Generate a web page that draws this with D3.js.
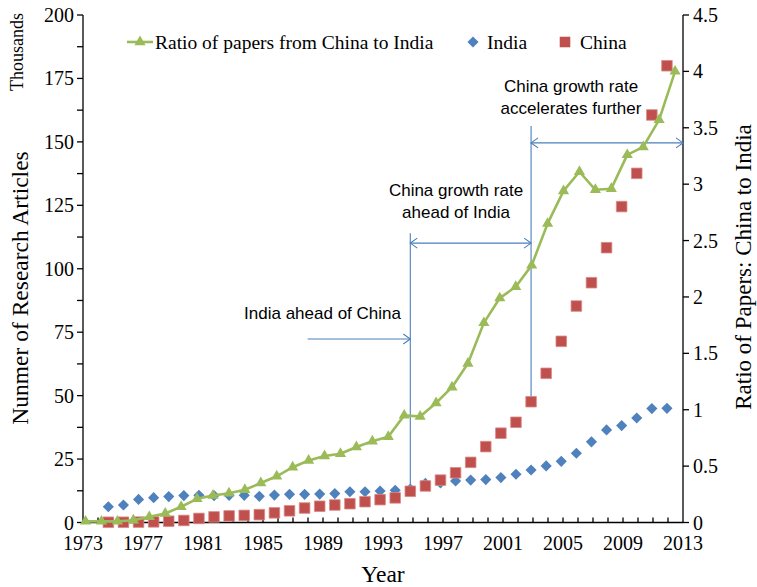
<!DOCTYPE html>
<html><head><meta charset="utf-8">
<script src="https://cdn.jsdelivr.net/npm/d3@7"></script>
<style>
html,body{margin:0;padding:0;background:#fff;}
svg{display:block;}
</style></head>
<body>
<svg id="chart" width="757" height="587"></svg>
<script>
// ---------- DATA ----------
const years = d3.range(1975, 2013); // 1975..2012
const india = [6.2, 6.9, 9.1, 9.8, 10.2, 10.6, 10.7, 10.6, 10.7, 10.7,
  10.3, 10.8, 11.1, 11.1, 11.2, 11.4, 12.1, 12.1, 12.4, 12.7,
  13.2, 15.4, 15.6, 16.4, 16.7, 16.9, 17.7, 19.0, 20.7, 22.3,
  24.1, 27.3, 31.8, 36.5, 38.2, 41.2, 44.9, 45.0];
const china = [0.1, 0.1, 0.15, 0.25, 0.5, 0.8, 1.6, 2.2, 2.6, 2.8,
  3.1, 3.8, 4.6, 5.7, 6.4, 6.9, 7.4, 8.2, 9.0, 9.7,
  12.3, 14.4, 16.7, 19.6, 23.7, 29.9, 35.2, 39.5, 47.6, 58.8,
  71.4, 85.3, 94.5, 108.3, 124.5, 137.6, 160.6, 180.0];
const ratio = [0.01, 0.01, 0.01, 0.02, 0.05, 0.08, 0.14, 0.21, 0.24, 0.26,
  0.29, 0.35, 0.41, 0.49, 0.55, 0.59, 0.61, 0.67, 0.72, 0.76,
  0.95, 0.94, 1.06, 1.20, 1.41, 1.77, 1.99, 2.09, 2.28, 2.65,
  2.94, 3.11, 2.95, 2.96, 3.26, 3.33, 3.57, 4.00];
const xTickLabels = [1973, 1977, 1981, 1985, 1989, 1993, 1997, 2001, 2005, 2009, 2013];
const leftTicks = [0, 25, 50, 75, 100, 125, 150, 175, 200];
const rightTicks = [0, 0.5, 1, 1.5, 2, 2.5, 3, 3.5, 4, 4.5];
const seriesNames = ["Ratio of papers from China to India", "India", "China"];
const colors = {ratio: "#9bbb59", india: "#4f81bd", china: "#c0504d", note: "#4a7ebb"};

// ---------- LAYOUT ----------
const L = 83, R = 683, T = 15, B = 522.5;
const svg = d3.select("#chart");
const x = d3.scaleLinear().domain([1973, 2013]).range([L, R]);
// scatter series sit on a slightly shifted value axis, ratio line on a category axis
const xPts = d3.scaleLinear().domain([1975, 2012]).range([x(1974.69), x(2011.93)]);
const xRatio = d3.scaleLinear().domain([1975, 2012]).range([x(1973.17), x(2012.47)]);
const yL = d3.scaleLinear().domain([0, 200]).range([B, T]);
const yR = d3.scaleLinear().domain([0, 4.5]).range([B, T]);

const serif = "'Liberation Serif','Times New Roman',serif";
const sans = "'Liberation Sans',Arial,sans-serif";

// ---------- AXES ----------
const gAx = svg.append("g").attr("stroke", "#000").attr("stroke-width", 1.3).attr("fill", "none");
gAx.append("line").attr("x1", L).attr("x2", L).attr("y1", T).attr("y2", B);
gAx.append("line").attr("x1", R).attr("x2", R).attr("y1", T).attr("y2", B);
gAx.append("line").attr("x1", L).attr("x2", R).attr("y1", B).attr("y2", B);
leftTicks.forEach(v => {
  gAx.append("line").attr("x1", L - 6).attr("x2", L).attr("y1", yL(v)).attr("y2", yL(v));
});
d3.range(12.5, 200, 25).forEach(v => {
  gAx.append("line").attr("x1", L - 6).attr("x2", L).attr("y1", yL(v)).attr("y2", yL(v));
});
rightTicks.forEach(v => {
  gAx.append("line").attr("x1", R).attr("x2", R + 6).attr("y1", yR(v)).attr("y2", yR(v));
});
d3.range(1974, 2013).forEach(yr => {
  gAx.append("line").attr("x1", x(yr)).attr("x2", x(yr)).attr("y1", B - 5).attr("y2", B);
});

const gTxt = svg.append("g").attr("font-family", serif).attr("fill", "#000");
gTxt.selectAll(".lt").data(leftTicks).join("text")
  .attr("x", L - 9).attr("y", d => yL(d)).attr("dy", "0.35em")
  .attr("text-anchor", "end").attr("font-size", 20).text(d => d);
gTxt.selectAll(".rt").data(rightTicks).join("text")
  .attr("x", R + 10).attr("y", d => yR(d)).attr("dy", "0.35em")
  .attr("text-anchor", "start").attr("font-size", 20).text(d => d);
gTxt.selectAll(".bt").data(xTickLabels).join("text")
  .attr("x", d => x(d)).attr("y", B + 20).attr("dy", "0.35em")
  .attr("text-anchor", "middle").attr("font-size", 20).text(d => d);

gTxt.append("text").attr("x", 383).attr("y", 582).attr("text-anchor", "middle")
  .attr("font-size", 23.5).text("Year");
gTxt.append("text").attr("transform", "translate(28,288) rotate(-90)").attr("text-anchor", "middle")
  .attr("font-size", 23.5).text("Nunmer of Research Articles");
gTxt.append("text").attr("transform", "translate(23,52) rotate(-90)").attr("text-anchor", "middle")
  .attr("font-size", 18).text("Thousands");
gTxt.append("text").attr("transform", "translate(751,267) rotate(-90)").attr("text-anchor", "middle")
  .attr("font-size", 23).text("Ratio of Papers: China to India");

// ---------- ANNOTATIONS ----------
const gN = svg.append("g").attr("stroke", colors.note).attr("stroke-width", 1.1).attr("fill", "none");
function arrowHead(px, py, dir) {
  gN.append("path").attr("d", `M${px - dir * 7},${py - 5}L${px},${py}L${px - dir * 7},${py + 5}`);
}
gN.append("line").attr("x1", xPts(1995)).attr("x2", xPts(1995))
  .attr("y1", yL(114)).attr("y2", yL(china[years.indexOf(1995)]) - 5);
gN.append("line").attr("x1", xPts(2003)).attr("x2", xPts(2003))
  .attr("y1", yL(156.3)).attr("y2", yL(china[years.indexOf(2003)]) - 5);
gN.append("line").attr("x1", xPts(1988.2)).attr("x2", xPts(1995)).attr("y1", yL(72.3)).attr("y2", yL(72.3));
arrowHead(xPts(1995), yL(72.3), 1);
gN.append("line").attr("x1", xPts(1995)).attr("x2", xPts(2003)).attr("y1", yL(110.1)).attr("y2", yL(110.1));
arrowHead(xPts(1995), yL(110.1), -1);
arrowHead(xPts(2003), yL(110.1), 1);
gN.append("line").attr("x1", xPts(2003)).attr("x2", R).attr("y1", yL(149.6)).attr("y2", yL(149.6));
arrowHead(xPts(2003), yL(149.6), -1);
arrowHead(R, yL(149.6), 1);

const gNT = svg.append("g").attr("font-family", sans).attr("font-size", 17).attr("fill", "#000").attr("text-anchor", "middle");
gNT.append("text").attr("x", 322.5).attr("y", 313).attr("dy", "0.35em").text("India ahead of China");
gNT.append("text").attr("x", 456).attr("y", 190).attr("dy", "0.35em").text("China growth rate");
gNT.append("text").attr("x", 456).attr("y", 212).attr("dy", "0.35em").text("ahead of India");
gNT.append("text").attr("x", 571).attr("y", 86).attr("dy", "0.35em").text("China growth rate");
gNT.append("text").attr("x", 571).attr("y", 108).attr("dy", "0.35em").text("accelerates further");

// ---------- SERIES ----------
const tri = d3.symbol().type(d3.symbolTriangle).size(54);
const sq = d3.symbol().type(d3.symbolSquare).size(112);
const dia = d3.symbol().type(d3.symbolSquare).size(62);

svg.append("g").selectAll("path").data(years).join("path")
  .attr("d", dia).attr("fill", colors.india)
  .attr("transform", (d, i) => `translate(${xPts(d)},${yL(india[i])}) rotate(45)`);
svg.append("g").selectAll("path").data(years).join("path")
  .attr("d", sq).attr("fill", colors.china).attr("stroke", "#d98a88").attr("stroke-width", 0.8)
  .attr("transform", (d, i) => `translate(${xPts(d)},${yL(china[i])})`);

const line = d3.line().x((d, i) => xRatio(years[i])).y(d => yR(d));
svg.append("path").datum(ratio).attr("d", line).attr("fill", "none")
  .attr("stroke", colors.ratio).attr("stroke-width", 2.6).attr("stroke-linejoin", "round");
svg.append("g").selectAll("path").data(ratio).join("path")
  .attr("d", tri).attr("fill", colors.ratio)
  .attr("transform", (d, i) => `translate(${xRatio(years[i])},${yR(d)})`);

// ---------- LEGEND ----------
const gLeg = svg.append("g").attr("font-family", serif).attr("font-size", 19.5).attr("fill", "#000");
const ly = 42;
gLeg.append("line").attr("x1", 127).attr("x2", 153).attr("y1", ly).attr("y2", ly)
  .attr("stroke", colors.ratio).attr("stroke-width", 2.6);
gLeg.append("path").attr("d", tri).attr("fill", colors.ratio).attr("transform", `translate(140,${ly})`);
gLeg.append("text").attr("x", 155).attr("y", ly).attr("dy", "0.35em").text(seriesNames[0]);
gLeg.append("path").attr("d", dia).attr("fill", colors.india).attr("transform", `translate(473,${ly}) rotate(45)`);
gLeg.append("text").attr("x", 487).attr("y", ly).attr("dy", "0.35em").text(seriesNames[1]);
gLeg.append("path").attr("d", sq).attr("fill", colors.china).attr("transform", `translate(565,${ly})`);
gLeg.append("text").attr("x", 580).attr("y", ly).attr("dy", "0.35em").text(seriesNames[2]);
</script>
</body></html>
